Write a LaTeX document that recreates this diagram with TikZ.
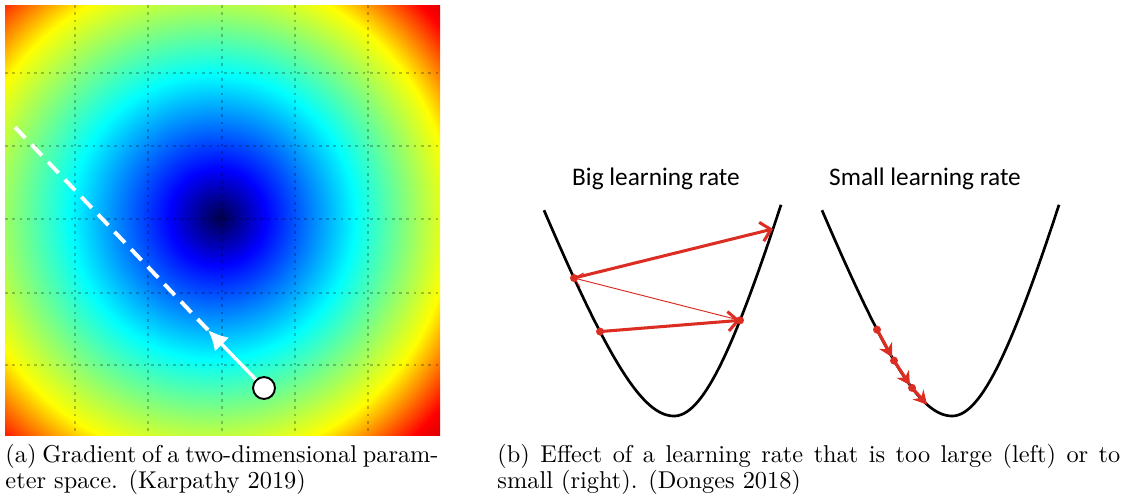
\documentclass[tikz,border=0pt]{standalone}
\usepackage{fontspec}
\newfontfamily\calibri{Carlito}
\usetikzlibrary{arrows.meta}

\definecolor{jetnavy}{rgb}{0,0,0.3}
\definecolor{jetdark}{rgb}{0.5,0,0}
\definecolor{steprd}{RGB}{220,45,35}

% jet colour map, inner point shifted to the right
\pgfdeclareradialshading{jetmap}{\pgfpoint{2.5bp}{0bp}}{%
  color(0bp)=(jetnavy); color(3bp)=(blue); color(8.9bp)=(cyan);
  color(15.2bp)=(yellow); color(18.9bp)=(red); color(23bp)=(jetdark);
  color(50bp)=(jetdark)}

\tikzset{
  gridline/.style={black, opacity=0.25, line width=1.1pt, dash pattern=on 1.1pt off 1.9pt},
  gradline/.style={white, line width=1.4pt, -{Latex[length=8.2pt,width=8.2pt]}},
  pathline/.style={white, line width=1.6pt, dash pattern=on 6.2pt off 3.7pt},
  ball/.style={circle, draw=black, fill=white, line width=0.8pt, minimum size=9pt, inner sep=0pt},
  bowl/.style={line width=1.1pt},
  bigstep/.style={steprd, line width=1.25pt, -{Straight Barb[length=4pt,width=8pt]}},
  thinstep/.style={steprd, line width=0.4pt, -{Straight Barb[length=3pt,width=6pt]}},
  smallstep/.style={steprd, line width=1.3pt, -{Stealth[length=5.5pt,width=6pt]}},
  bowltitle/.style={font=\calibri\fontsize{10.4}{12}\selectfont, inner sep=0pt},
  subcap/.style={font=\fontsize{10}{10.6}\selectfont, align=left, inner sep=0pt}
}

\begin{document}
\begin{tikzpicture}[x=0.411pt, y=-0.411pt,
  declare function={lrise(\u)=265*(sqrt(\u*\u+0.49)-0.7);
                    rrise(\u)=365*(sqrt(\u*\u+0.49)-0.7);}]
  \useasboundingbox (0,0) rectangle (1124,500);

  % (a) cost surface
  \begin{scope}
    \clip (5,5) rectangle (440,435);
    \shade[shading=jetmap] (180,217) circle (400);
  \end{scope}
  \foreach \gx in {75,148,222,295,368}
    \draw[gridline] (\gx,5) -- (\gx,435);
  \foreach \gy in {73,146,219,293,365}
    \draw[gridline] (5,\gy) -- (440,\gy);

  \coordinate (tip) at (208,330);
  \coordinate (far) at (11,123);
  \draw[pathline] (tip) -- (far);
  \node[ball] (start) at (264,388) {};
  \draw[gradline] (start) -- (tip);

  % (b) two bowls
  \node[bowltitle, anchor=base] (bigtitle) at (656,185) {Big learning rate};
  \node[bowltitle, anchor=base] (smalltitle) at (925,185) {Small learning rate};

  \draw[bowl] plot[domain=-1.3:0, samples=50] ({674+100*\x},{416-lrise(\x)})
    -- plot[domain=0:1.07, samples=50] ({674+100*\x},{416-rrise(\x)});
  \draw[bowl] plot[domain=-1.3:0, samples=50] ({952+100*\x},{416-lrise(\x)})
    -- plot[domain=0:1.07, samples=50] ({952+100*\x},{416-rrise(\x)});

  \coordinate (b0) at (600,{416-lrise(-0.74)});
  \coordinate (b1) at (740,{416-rrise(0.66)});
  \coordinate (b2) at (574,{416-lrise(-1.0)});
  \coordinate (b3) at (773,{416-rrise(0.99)});
  \draw[bigstep] (b0) -- (b1);
  \draw[thinstep] (b1) -- (b2);
  \draw[bigstep] (b2) -- (b3);
  \foreach \p in {b0,b1,b2}
    \fill[steprd] (\p) circle (4);

  \foreach \ua/\ub [count=\i] in {-0.75/-0.60, -0.58/-0.42, -0.40/-0.25} {
    \coordinate (s\i) at ({952+100*\ua},{416-lrise(\ua)});
    \coordinate (t\i) at ({952+100*\ub},{416-lrise(\ub)});
    \draw[smallstep] (s\i) -- (t\i);
    \fill[steprd] (s\i) circle (4);
  }

  % captions
  \node[subcap, anchor=north west] (capa) at (5,444)
    {\makebox[178pt][s]{(a) Gradient of a two-dimensional param-}\\eter space. (Karpathy 2019)};
  \node[subcap, anchor=north west] (capb) at (497,444)
    {\makebox[256pt][s]{(b) Effect of a learning rate that is too large (left) or to}\\small (right). (Donges 2018)};
\end{tikzpicture}
\end{document}
